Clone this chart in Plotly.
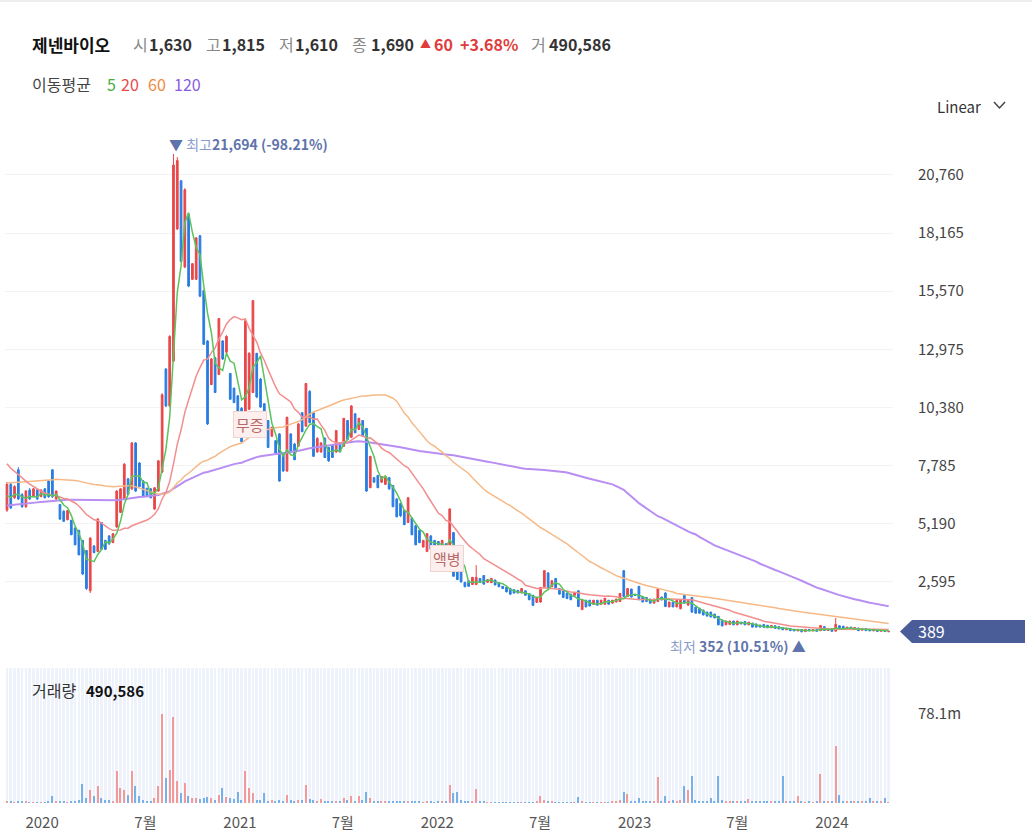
import plotly.graph_objects as go
import pandas as pd

# ---------------- data (weekly candles) ----------------
start_week = "2019-10-28"

opens = [5800,6950,6350,7600,6500,5950,6700,6400,6700,6400,
         6750,7100,7600,6300,6050,5750,5370,5350,5000,4900,
         4450,4000,2200,4200,3950,5250,4450,4650,4350,5050,
         5700,6300,7200,6750,8800,7900,7100,6780,6750,5850,
         6650,7500,12100,10450,12450,18350,20500,16650,19000,16100,
         16100,18050,15600,13350,11400,12600,11850,13350,12850,11900,
         11250,10900,10350,10200,10300,11050,12800,11650,10550,9800,
         9100,8900,9200,8350,7550,9200,8750,8650,10150,9550,
         11100,10150,8400,8400,9000,8600,8700,8400,8800,8650,
         9800,9050,10100,9400,9800,9450,6800,7250,7350,7050,
         6950,7250,6900,6300,6100,5800,5250,5450,5100,4900,
         4150,3950,4650,4450,4400,4100,4300,3850,4800,3550,
         3250,2580,2650,2480,2480,2750,2880,2580,2560,2680,
         2550,2400,2350,2300,2250,2220,2100,2200,2080,2000,
         1680,1700,2380,3000,2380,2750,2300,2200,2100,2050,
         2000,2200,1360,1780,1780,1600,1780,1600,1600,1780,
         1650,1700,1720,3100,1950,2280,2010,2400,1920,1900,
         1830,1650,1720,1920,2100,1480,1700,1480,1400,2000,
         1560,1900,1470,1420,1340,1250,1250,1160,1060,900,
         680,700,850,680,800,830,680,760,720,670,
         700,660,550,640,600,560,460,520,480,410,
         470,380,480,410,470,420,600,430,520,400,
         640,620,470,580,470,540,440,520,480,410,
         470,390,460,370]
highs = [7060,7010,6920,7720,6560,6700,6790,6790,6750,6720,
         6790,7140,7630,6680,6070,5800,5800,5360,5040,4910,
         4470,4020,4600,4240,5450,5270,4470,4690,4780,6700,
         6790,7900,7230,8840,8840,7950,7140,6790,6790,6830,
         8040,11020,12140,13610,21694,21560,20530,20170,19050,16830,
         17990,18080,15620,13390,12590,12640,14370,13390,13610,11920,
         11250,10940,10400,14280,12850,15180,12810,11700,10580,9820,
         9510,8920,9240,8390,9960,9240,8800,9690,10180,11480,
         11160,10180,9060,8840,9060,8620,8720,9380,8840,9910,
         9820,10490,10130,9910,9820,9460,8220,7280,7370,7320,
         7320,7280,6920,6340,6120,5810,6390,5490,5140,4910,
         4470,4780,4690,4470,4420,4470,4320,5890,4820,3570,
         3260,2590,2670,2820,3350,2770,2900,2720,2770,2700,
         2560,2410,2360,2330,2260,2230,2310,2210,2100,2010,
         1920,2370,3130,3020,2660,2760,2310,2210,2110,2060,
         2130,2230,1790,1790,1790,1790,1790,1790,1880,1790,
         1790,1840,2100,3120,2310,2290,2030,2410,1930,1910,
         1840,1840,2320,1930,2140,1710,1710,1790,1790,2010,
         1790,1920,1480,1430,1350,1260,1260,1170,1070,910,
         860,860,860,860,810,850,810,770,730,680,
         710,670,660,650,610,570,540,530,490,490,
         480,490,490,480,480,660,610,530,530,990,
         650,630,590,590,570,550,530,530,490,490,
         480,480,470,400]
lows = [5720,5850,6300,6250,5900,5900,6250,6390,6250,6380,
        6330,6350,6340,6250,5360,5270,5350,4690,4240,3800,
        2900,2240,2100,3890,3930,4020,4020,4240,4330,5000,
        5670,6250,6470,6700,6610,6830,6390,6390,6330,5810,
        6610,7450,10400,10400,12410,18300,16870,16600,15750,16070,
        16070,15310,13170,9600,11390,11030,11830,12500,12810,10720,
        10580,9820,8800,10180,10270,11030,10800,10360,9060,8570,
        9060,8300,7060,7500,7500,8350,8040,8620,9290,9510,
        9690,8170,8350,8350,8130,7950,8130,8350,8390,8620,
        8930,9020,9240,9380,9060,6610,6790,7010,6790,7010,
        6930,6700,5940,5490,5490,5140,5230,4690,4240,4330,
        4150,3930,4020,4110,4020,4080,3930,3800,2820,2680,
        2550,2360,2380,2460,2450,2550,2460,2570,2550,2450,
        2370,2280,2140,2010,2090,2090,2090,1990,1790,1520,
        1660,1660,2330,2330,2370,2320,2040,1890,1840,1790,
        1990,1470,1340,1470,1510,1590,1550,1590,1590,1590,
        1640,1690,1700,1920,1940,1910,1980,1790,1690,1700,
        1640,1640,1700,1780,1470,1470,1470,1470,1380,1640,
        1550,1210,1190,1190,1110,1060,1020,980,670,620,
        670,690,670,670,710,670,670,570,570,570,
        560,540,540,510,490,450,450,410,400,400,
        352,370,400,400,380,410,420,420,380,390,
        460,460,460,460,460,410,430,410,400,400,
        370,380,370,365]
closes = [6950,5900,6850,6300,5950,6650,6300,6750,6300,6700,
          6350,6400,6400,6650,5400,5300,5780,4700,4250,3800,
          2950,2300,4550,3900,5400,4050,4050,4300,4750,6650,
          6750,7850,6500,8800,6650,6850,6400,6400,6350,6800,
          8000,10950,10450,13550,21200,21400,16900,20100,15800,16800,
          17950,15350,13200,9650,12550,11050,14350,12550,13550,10750,
          10600,9850,8850,14250,12800,15150,10850,10400,9100,8600,
          9500,8350,7100,7550,9950,8400,8050,9650,9300,11450,
          9700,8200,9000,8800,8150,8000,8150,9350,8400,9900,
          8950,10450,9250,9900,9100,6650,8200,7050,6800,7300,
          7300,6750,5950,5500,5550,5150,6350,4700,4250,4350,
          4450,4750,4050,4150,4050,4450,3950,5850,2850,2700,
          2600,2380,2400,2800,2800,2580,2500,2700,2750,2460,
          2380,2300,2150,2050,2100,2100,2300,2000,1800,1550,
          1900,2350,3100,2350,2650,2330,2050,1900,1850,1800,
          2120,1500,1780,1480,1520,1780,1560,1780,1870,1600,
          1780,1830,2080,1950,2300,1920,2000,1800,1700,1720,
          1650,1830,2300,1790,1500,1700,1480,1780,1780,1650,
          1780,1250,1200,1200,1120,1070,1030,990,680,630,
          850,850,680,850,720,680,800,580,580,580,
          570,550,650,520,500,460,530,420,410,480,
          370,480,410,470,390,650,430,520,390,700,
          470,470,580,470,560,420,520,420,410,480,
          380,470,380,389]
# weekly volume, millions of shares
volumes_m = [1.2,1.0,0.8,1.5,0.9,1.0,0.7,0.8,0.6,0.7,
             0.8,1.2,5.8,0.9,1.5,1.2,0.8,2.0,1.5,2.5,
             16.9,4.0,11.7,5.8,14.6,4.5,3.0,2.5,2.0,27.7,
             13.0,11.7,7.0,27.7,14.6,5.8,2.5,2.0,1.8,4.5,
             14.6,78.1,21.9,29.1,75.2,19.0,8.7,17.5,5.8,4.4,
             4.0,3.5,4.5,5.0,4.4,3.0,7.0,13.1,5.0,4.5,
             3.5,9.3,3.0,27.7,13.0,8.7,3.0,2.5,8.7,2.0,
             2.5,1.8,3.0,2.0,7.3,2.5,1.5,3.0,2.5,16.0,
             3.5,3.0,1.5,3.5,1.2,1.5,1.0,2.0,1.2,4.0,
             3.0,5.8,2.0,5.8,2.5,9.3,4.0,1.8,2.0,1.2,
             1.0,1.5,2.0,1.2,1.0,1.5,2.0,1.0,1.5,1.0,
             0.8,1.0,1.2,0.8,1.0,0.9,1.2,16.0,8.7,9.3,
             2.5,1.5,1.2,2.0,12.2,1.5,1.0,0.8,0.6,0.5,
             0.5,0.4,0.5,0.4,0.4,0.3,0.4,0.3,0.4,0.5,
             1.0,5.8,2.5,2.0,1.0,0.8,0.6,0.5,0.5,0.4,
             0.5,5.0,1.5,0.8,0.6,0.5,0.5,0.5,0.6,0.5,
             1.0,2.0,3.0,9.3,8.0,2.0,1.0,4.4,1.5,1.0,
             1.0,2.0,22.7,1.5,5.8,1.5,2.5,2.0,3.0,15.2,
             11.0,23.9,2.5,1.5,1.2,1.0,4.5,2.0,23.9,3.0,
             1.5,1.2,1.0,1.5,1.2,1.0,3.5,1.0,1.5,1.0,
             2.0,1.5,1.2,1.5,1.0,23.9,2.0,1.0,1.2,5.8,
             1.0,0.8,1.0,0.8,1.0,25.4,2.0,1.5,1.0,50.1,
             7.3,2.0,1.5,1.2,1.0,1.5,1.0,2.0,4.0,1.0,
             1.5,1.0,4.4,0.490586]
# weekly closes before the visible window (inferred from the moving-average lines)
prior_closes = [4300,4200,4100,4250,4400,4350,4500,4600,4450,4300,
                4200,4150,4300,4450,4600,4700,4550,4400,4300,4250,
                4350,4500,4650,4800,4700,4550,4400,4350,4300,4200,
                4250,4400,4500,4600,4550,4450,4400,4500,4600,4700,
                4800,
                5200,5600,6000,6400,6800,6500,6300,6600,6900,6700,
                6400,6200,6300,6500,6400,6200,6000,5900,5800,
                5700,5600,5500,5650,5800,5750,5600,5500,5650,5700,
                5800,5750,5600,5700,5750,
                5700,5650,5600,5750,5800,5700,5600,5650,5750,5800,
                5700,5650,5700,5800,5750,5700,
                7500,8800,9800,10300,10100,9900,10200,10000,10300,
                10000,9600,9400,9200,9000,9100,8900,8800,
                8300,7900,7500,7200,7000,6800,6500,6300,6200,6300,6500]

ma_periods = [5, 20, 60, 120]
ma_colors = ["#5cc35c", "#f28e8e", "#f6b986", "#b88ef2"]
ma_label_colors = ["#3fae3f", "#e84a4a", "#f0893e", "#8a5ce0"]

price_ticks = [2595, 5190, 7785, 10380, 12975, 15570, 18165, 20760]
x_tick_dates = ["2020-01-01", "2020-07-10", "2021-01-01", "2021-07-10", "2022-01-01",
                "2022-07-10", "2023-01-01", "2023-07-10", "2024-01-01"]
x_tick_text = ["2020", "7월", "2021", "7월", "2022", "7월", "2023", "7월", "2024"]

# ---------------- derived ----------------
dates = pd.date_range(start_week, periods=len(closes), freq="7D")
all_closes = pd.Series(prior_closes + closes, dtype=float)
n_prior = len(prior_closes)
mas = {p: all_closes.rolling(p).mean().iloc[n_prior:].to_numpy() for p in ma_periods}
volumes = [v * 1e6 for v in volumes_m]

UP = "#e8474a"
DOWN = "#2a7de1"
VUP = "#f29a9a"
VDOWN = "#78b0ea"
vol_colors = [VUP if c >= o else VDOWN for o, c in zip(opens, closes)]

W, H = 1032, 832
def px(x):
    return x / W
def py(y):
    return 1 - y / H

FONT = "Noto Sans CJK KR"
PRICE_TOP_PX, PRICE_BOT_PX = 120, 650
price_range = [-442, 23212]
VOL_TOP_PX, VOL_BOT_PX = 668, 803
vol_range = [0, 117.8e6]
price_per_px = (price_range[1] - price_range[0]) / (PRICE_BOT_PX - PRICE_TOP_PX)

x_range = [pd.Timestamp("2019-10-24 08:00"), pd.Timestamp("2024-04-23 00:00")]

fig = go.Figure()

# volume pane background bands
fig.add_trace(go.Bar(x=dates, y=[vol_range[1]] * len(dates), marker=dict(color="#eef2fb", line=dict(width=0)),
                     width=5.0 * 86400000, xaxis="x2", yaxis="y2", hoverinfo="skip", showlegend=False))
fig.add_trace(go.Bar(x=dates, y=volumes, marker=dict(color=vol_colors, line=dict(width=0)),
                     width=2.6 * 86400000, xaxis="x2", yaxis="y2", showlegend=False))

fig.add_trace(go.Candlestick(x=dates, open=opens, high=highs, low=lows, close=closes,
                             increasing=dict(line=dict(color=UP, width=1), fillcolor=UP),
                             decreasing=dict(line=dict(color=DOWN, width=1), fillcolor=DOWN),
                             whiskerwidth=0, xaxis="x", yaxis="y", showlegend=False))

for p, col in list(zip(ma_periods, ma_colors))[::-1]:
    fig.add_trace(go.Scatter(x=dates, y=mas[p], mode="lines",
                             line=dict(color=col, width=2 if p == 120 else 1.5),
                             xaxis="x", yaxis="y", showlegend=False, hoverinfo="skip"))

ann = []
def text(x, y, t, size=15, color="#333", anchor="left", family=FONT):
    ann.append(dict(x=px(x), y=py(y), xref="paper", yref="paper", text=t, showarrow=False,
                    xanchor=anchor, yanchor="middle", font=dict(size=size, color=color, family=family)))

# header
RED = "#e03c3c"
text(30, 44, "<b>제넨바이오</b>", 17, "#111")
text(131, 44, "시", 16, "#888")
text(147, 44, "<b>1,630</b>", 16, "#333")
text(204, 44, "고", 16, "#888")
text(220, 44, "<b>1,815</b>", 16, "#333")
text(277, 44, "저", 16, "#888")
text(293, 44, "<b>1,610</b>", 16, "#333")
text(350, 44, "종", 16, "#888")
text(369, 44, "<b>1,690</b>", 16, "#333")
text(418, 43, "▲", 11, RED)
text(432, 44, "<b>60</b>", 16, RED)
text(458, 44, "<b>+3.68%</b>", 16, RED)
text(529, 44, "거", 16, "#888")
text(547, 44, "<b>490,586</b>", 16, "#333")

text(30, 84, "이동평균", 16, "#444")
lx = [105, 119, 146, 172]
for x, p, c in zip(lx, ma_periods, ma_label_colors):
    text(x, 84, str(p), 16, c)

text(935, 106, "Linear", 15, "#333")

text(30, 690, "거래량", 16, "#333")
text(84, 690, "<b>{:,}</b>".format(int(round(volumes[-1]))), 15, "#111")

# high / low markers
imax = max(range(len(highs)), key=lambda i: highs[i])
imin = min(range(len(lows)), key=lambda i: lows[i])
last = closes[-1]
hi_pct = (last - highs[imax]) / highs[imax] * 100
lo_pct = (last - lows[imin]) / lows[imin] * 100
ann.append(dict(x=dates[imax], y=highs[imax], xref="x", yref="y", showarrow=False,
                text="▼ <span style='color:#8a9ccb'>최고</span><b>{:,} ({:.2f}%)</b>".format(highs[imax], hi_pct),
                xanchor="left", yanchor="middle", xshift=-6, yshift=10,
                font=dict(size=14, color="#5f74ab", family=FONT)))
ann.append(dict(x=dates[imin], y=lows[imin], xref="x", yref="y", showarrow=False,
                text="<span style='color:#8a9ccb'>최저</span> <b>{:,} ({:.2f}%)</b> ▲".format(lows[imin], lo_pct),
                xanchor="right", yanchor="middle", xshift=6, yshift=-14,
                font=dict(size=14, color="#5f74ab", family=FONT)))

# event labels
for idx, label, ys in [(64, "무증", -15), (116, "액병", -6)]:
    ann.append(dict(x=dates[idx], y=lows[idx], xref="x", yref="y", showarrow=False, text=label,
                    xanchor="center", yanchor="middle", yshift=ys, xshift=1,
                    bgcolor="#fcefee", bordercolor="#f1d3d0", borderwidth=1, borderpad=2,
                    font=dict(size=15, color="#b86a6a", family=FONT)))

# last price tag
ann.append(dict(x=px(916), y=last, xref="paper", yref="y", showarrow=False, text=str(last),
                xanchor="left", yanchor="middle", font=dict(size=16, color="white", family=FONT)))

shapes = []
h = 11.5 * price_per_px
shapes.append(dict(type="path", xref="paper", yref="y",
                   path="M {a},{y} L {b},{t} L {c},{t} L {c},{bt} L {b},{bt} Z".format(
                       a=px(900), b=px(912), c=px(1025), y=last, t=last + h, bt=last - h),
                   fillcolor="#4a5d98", line=dict(width=0)))
# chevron next to "Linear"
shapes.append(dict(type="path", xref="paper", yref="paper",
                   path="M {x0},{y0} L {x1},{y1} L {x2},{y0}".format(x0=px(994), x1=px(999.5), x2=px(1005),
                                                                    y0=py(102), y1=py(108)),
                   line=dict(color="#444", width=1.5)))
shapes.append(dict(type="line", xref="paper", yref="paper", x0=0, x1=1, y0=py(1), y1=py(1),
                   line=dict(color="#dcdcdc", width=1)))

fig.update_layout(
    width=W, height=H, margin=dict(l=0, r=0, t=0, b=0),
    paper_bgcolor="white", plot_bgcolor="rgba(0,0,0,0)",
    showlegend=False, bargap=0, barmode="overlay", boxgap=0.35,
    font=dict(family=FONT, color="#444"),
    annotations=ann, shapes=shapes,
    xaxis=dict(domain=[px(5), px(893)], range=x_range, anchor="y", showticklabels=False,
               showgrid=False, zeroline=False, rangeslider=dict(visible=False), type="date"),
    yaxis=dict(domain=[py(PRICE_BOT_PX), py(PRICE_TOP_PX)], range=price_range, side="right",
               tickvals=price_ticks, tickformat=",d", showgrid=True, gridcolor="#f3f3f3", gridwidth=1,
               zeroline=False, ticks="", ticklabelstandoff=24,
               tickfont=dict(size=15, color="#444", family=FONT)),
    xaxis2=dict(domain=[px(5), px(893)], range=x_range, anchor="y2", matches="x", type="date",
                tickvals=pd.to_datetime(x_tick_dates), ticktext=x_tick_text, showgrid=False, zeroline=False,
                ticks="outside", ticklen=6, tickcolor="rgba(0,0,0,0)",
                tickfont=dict(size=15, color="#555", family=FONT)),
    yaxis2=dict(domain=[py(VOL_BOT_PX), py(VOL_TOP_PX)], range=vol_range, side="right",
                tickvals=[78.1e6], ticktext=["78.1m"], showgrid=False, zeroline=False, ticks="",
                ticklabelstandoff=24, tickfont=dict(size=15, color="#444", family=FONT)),
)

fig.write_html("out.html", config={"displayModeBar": False},
               post_script="document.body.style.margin='0';document.body.style.overflow='hidden';")
